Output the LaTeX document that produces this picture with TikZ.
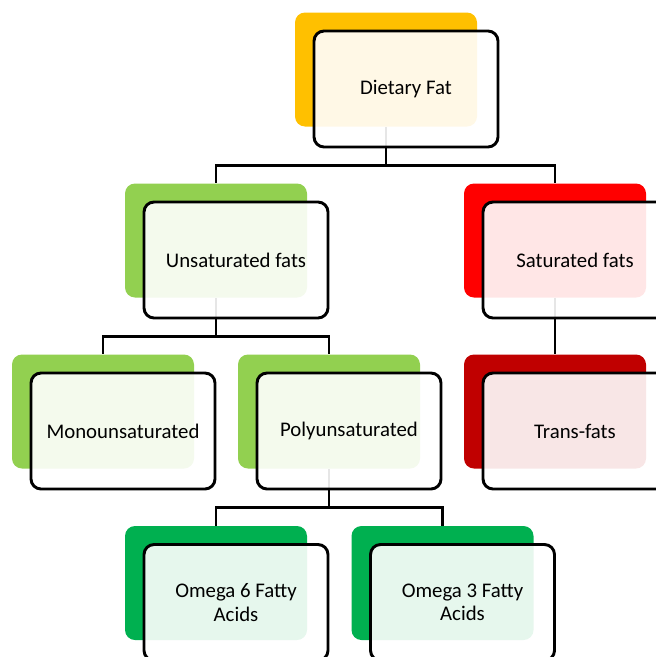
\documentclass[tikz,border=0pt]{standalone}
\usepackage{fontspec}
\setmainfont{Carlito}
\definecolor{fatgold}{HTML}{FFC000}
\definecolor{lightgreen}{HTML}{92D050}
\definecolor{fatred}{HTML}{FF0000}
\definecolor{darkred}{HTML}{C00000}
\definecolor{fatgreen}{HTML}{00B050}
\begin{document}
\begin{tikzpicture}[x=0.75pt, y=-0.75pt,
  back/.style={rectangle, rounded corners=7.5pt, minimum width=136.5pt, minimum height=85.5pt, inner sep=0pt, draw=none, fill=#1},
  front/.style={rectangle, rounded corners=7.5pt, minimum width=138pt, minimum height=87pt, draw=black, line width=2.2pt, fill=white, fill opacity=0.9, text opacity=1, align=center, font=\fontsize{15.6}{17.5}\selectfont},
  link/.style={draw=black, line width=1.9pt}]
  \useasboundingbox (0,0) rectangle (656,657);
  \clip (0,0) rectangle (656,657);

  % coloured backs
  \node[back=fatgold] (fatB) at (386, 69.5) {};
  \node[back=lightgreen] (unsatB) at (216, 240.5) {};
  \node[back=fatred] (satB) at (555, 240.5) {};
  \node[back=lightgreen] (monoB) at (103, 411.5) {};
  \node[back=lightgreen] (polyB) at (329, 411.5) {};
  \node[back=darkred] (transB) at (555, 411.5) {};
  \node[back=fatgreen] (omegasixB) at (216, 583) {};
  \node[back=fatgreen] (omegathreeB) at (442.5, 583) {};

  % connectors
  \draw[link] (fatB.south) -- ++(0,38.5) -| (unsatB.north);
  \draw[link] (fatB.south) -- ++(0,38.5) -| (satB.north);
  \draw[link] (unsatB.south) -- ++(0,38.5) -| (monoB.north);
  \draw[link] (unsatB.south) -- ++(0,38.5) -| (polyB.north);
  \draw[link] (satB.south) -- (transB.north);
  \draw[link] (polyB.south) -- ++(0,38.5) -| (omegasixB.north);
  \draw[link] (polyB.south) -- ++(0,38.5) -| (omegathreeB.north);

  % white fronts with text
  \node[front] (fat) at ([shift={(20,19.5)}]fatB.center) {Dietary Fat};
  \node[front] (unsat) at ([shift={(20,19.5)}]unsatB.center) {Unsaturated fats};
  \node[front] (sat) at ([shift={(20,19.5)}]satB.center) {Saturated fats};
  \node[front] (mono) at ([shift={(20,19.5)}]monoB.center) {Monounsaturated};
  \node[front] (poly) at ([shift={(20,19.5)}]polyB.center) {Polyunsaturated};
  \node[front] (trans) at ([shift={(20,19.5)}]transB.center) {Trans-fats};
  \node[front] (omegasix) at ([shift={(20,19.5)}]omegasixB.center) {Omega 6 Fatty\\Acids};
  \node[front] (omegathree) at ([shift={(20,19.5)}]omegathreeB.center) {Omega 3 Fatty\\Acids};
\end{tikzpicture}
\end{document}
